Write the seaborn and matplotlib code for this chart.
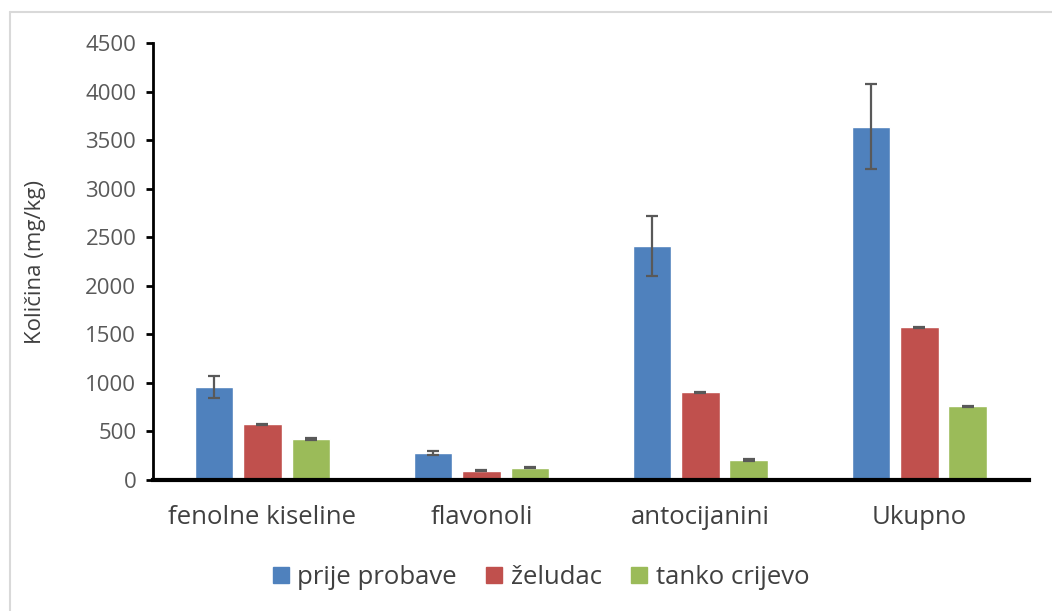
import numpy as np
import pandas as pd
import seaborn as sns
import matplotlib.pyplot as plt
from matplotlib.lines import Line2D

# data
kategorije = ['fenolne kiseline', 'flavonoli', 'antocijanini', 'Ukupno']
faze = ['prije probave', 'želudac', 'tanko crijevo']
prije_probave = [955, 277, 2410, 3640]
zeludac = [572, 95, 903, 1572]
tanko_crijevo = [420, 125, 207, 757]
err_prije = [115, 20, 305, 440]
err_zeludac = [8, 6, 6, 8]
err_tanko = [8, 6, 8, 8]

boje = ['#4F81BD', '#C0504D', '#9BBB59']

sns.set_style('white')
plt.rcParams['font.family'] = ['Open Sans', 'DejaVu Sans']

df = pd.DataFrame({
    'Kategorija': kategorije * 3,
    'Faza': np.repeat(faze, len(kategorije)),
    'Vrijednost': prije_probave + zeludac + tanko_crijevo,
    'Greska': err_prije + err_zeludac + err_tanko,
})

fig = plt.figure(figsize=(10.52, 6.11), dpi=100)
ax = fig.add_axes([0.1454, 0.2144, 0.8326, 0.7152])

sns.barplot(data=df, x='Kategorija', y='Vrijednost', hue='Faza',
            palette=boje, width=0.664, gap=0.2, errorbar=None, ax=ax,
            saturation=1, legend=False)

# error bars on top of each bar
for faza, cont in zip(faze, ax.containers):
    sub = df[df['Faza'] == faza]
    xs = [p.get_x() + p.get_width() / 2 for p in cont.patches]
    ax.errorbar(xs, sub['Vrijednost'], yerr=sub['Greska'], fmt='none',
                ecolor='#595959', elinewidth=1.6, capsize=4.5, capthick=1.6)

ax.set_xlim(-0.5, 3.5)
ax.set_ylim(0, 4500)
ax.set_yticks(np.arange(0, 4501, 500))
ax.set_xlabel('')
ax.set_ylabel('Količina (mg/kg)', fontsize=16, color='#404040', labelpad=28)
ax.tick_params(axis='y', labelsize=16, labelcolor='#595959', length=5,
               width=2, color='black', left=True, pad=7)
ax.tick_params(axis='x', labelsize=18.5, labelcolor='#404040', length=0, pad=18)
for s in ['top', 'right']:
    ax.spines[s].set_visible(False)
ax.spines['left'].set_linewidth(2)
ax.spines['bottom'].set_linewidth(3)
ax.spines['left'].set_color('black')
ax.spines['bottom'].set_color('black')

handles = [Line2D([], [], marker='s', linestyle='none', markersize=11,
                  markerfacecolor=c, markeredgecolor=c) for c in boje]
fig.legend(handles, faze, loc='center', bbox_to_anchor=(0.514, 0.055),
           ncol=3, frameon=False, fontsize=18.5, handlelength=0.7,
           handletextpad=0.3, columnspacing=1.1, labelcolor='#404040')

# light frame like the original chart area
fig.add_artist(Line2D([10 / 1052, 10 / 1052], [0, 1 - 12 / 611],
                      transform=fig.transFigure, color='#d9d9d9', lw=1.5))
fig.add_artist(Line2D([10 / 1052, 1], [1 - 12 / 611, 1 - 12 / 611],
                      transform=fig.transFigure, color='#d9d9d9', lw=1.5))

fig.savefig('out.png', dpi=100)
